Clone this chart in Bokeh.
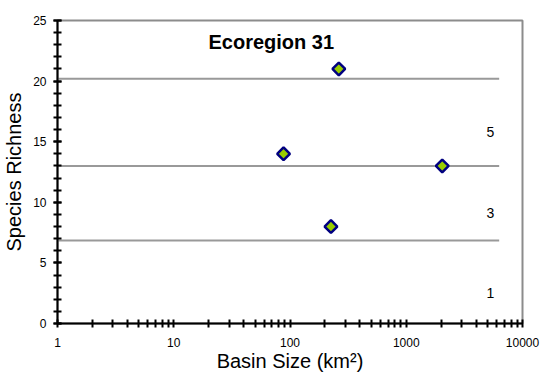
import math
from bokeh.plotting import figure
from bokeh.models import Range1d, FixedTicker, NumeralTickFormatter
from bokeh.core.properties import value
from bokeh.embed import file_html
from bokeh.resources import INLINE

# ---- data ----
basin_size = [88, 263, 225, 2040]          # km^2
richness = [14, 21, 8, 13]
boundary_levels = [20.2, 13.0, 6.85]
boundary_start = [1, 1, 1]
boundary_end = [6300, 6300, 6300]
zone_labels = ["5", "3", "1"]
zone_label_x = [5300, 5300, 5300]
zone_label_y = [15.8, 9.1, 2.5]
title_text = ["Ecoregion 31"]
title_x = [69]
title_y = [23.2]
x_major = [1, 10, 100, 1000, 10000]
y_major = [0, 5, 10, 15, 20, 25]
x_minor = [m * 10 ** k for k in range(4) for m in range(2, 10)]
y_minor = list(range(0, 26))

FONT = "Liberation Sans"

p = figure(width=542, height=376, x_axis_type="log",
           x_range=Range1d(1, 10000), y_range=Range1d(0, 25),
           output_backend="svg", toolbar_location=None,
           min_border_left=56, min_border_right=20,
           min_border_top=20, min_border_bottom=53)
p.xgrid.visible = False
p.ygrid.visible = False
p.outline_line_color = "#8c8c8c"
p.outline_line_width = 2
p.background_fill_color = "white"
p.border_fill_color = "white"

# boundary lines
p.segment(x0=boundary_start, x1=boundary_end, y0=boundary_levels, y1=boundary_levels,
          line_color="#999999", line_width=2)

# points
p.scatter(basin_size, richness, marker="square", size=9, angle=math.pi / 4,
          fill_color="#99cc00", line_color="#000080", line_width=2.5)

# zone labels
p.text(x=zone_label_x, y=zone_label_y, text=zone_labels,
       text_font=value(FONT), text_font_size="14px", text_color="black",
       text_align="center", text_baseline="middle")

# title inside the plot
p.text(x=title_x, y=title_y, text=title_text,
       text_font=value(FONT), text_font_size="20px", text_font_style="bold",
       text_color="black", text_align="center", text_baseline="middle")

for ax in (p.xaxis[0], p.yaxis[0]):
    ax.axis_line_color = "black"
    ax.axis_line_width = 2
    ax.major_tick_line_color = "black"
    ax.major_tick_line_width = 2
    ax.minor_tick_line_color = "black"
    ax.minor_tick_line_width = 2
    ax.major_tick_in = 4
    ax.major_tick_out = 4
    ax.minor_tick_in = 4
    ax.minor_tick_out = 4
    ax.major_label_text_font = FONT
    ax.major_label_text_font_size = "12px"
    ax.major_label_text_color = "black"
    ax.axis_label_text_font = FONT
    ax.axis_label_text_font_size = "20px"
    ax.axis_label_text_font_style = "normal"
    ax.axis_label_text_color = "black"

p.xaxis.ticker = FixedTicker(ticks=x_major, minor_ticks=x_minor)
p.xaxis.formatter = NumeralTickFormatter(format="0")
p.yaxis.ticker = FixedTicker(ticks=y_major, minor_ticks=y_minor)
p.xaxis.axis_label = "Basin Size (km²)"
p.yaxis.axis_label = "Species Richness"
p.xaxis.major_label_standoff = 10
p.yaxis.major_label_standoff = 7
p.xaxis.axis_label_standoff = 0
p.yaxis.axis_label_standoff = 5

open("out.html", "w").write(file_html(p, INLINE))
